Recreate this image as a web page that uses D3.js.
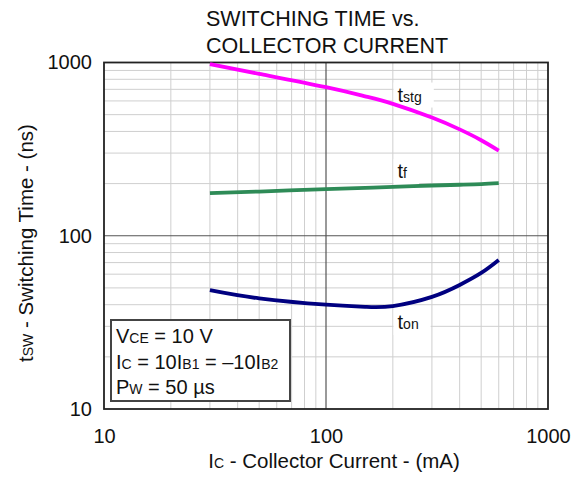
<!DOCTYPE html>
<html><head><meta charset="utf-8">
<script src="https://cdn.jsdelivr.net/npm/d3@7"></script>
<style>
body{margin:0;background:#fff}
svg{display:block}
text{font-family:"Liberation Sans",Arial,Helvetica,sans-serif;fill:#111}
</style>
</head><body>
<svg id="chart" width="581" height="477"></svg>
<script>
// ---- data ----
const currentMA = [30, 50, 100, 150, 200, 300, 400, 500, 600];
const tStg = [980, 860, 720, 638, 577, 481, 411, 356, 310];
const tF   = [176, 180, 186, 189, 191.5, 195, 197, 198.5, 201];
const tOn  = [48.5, 43.5, 40, 38.9, 39.3, 44.4, 52, 61, 72.5];
const xTickValues = [10, 100, 1000];
const yTickValues = [10, 100, 1000];
const seriesNames = ["stg", "f", "on"];
const seriesColors = ["#ff00ff", "#2e8b57", "#000080"];
const labelAt = [[210, 595], [210, 215], [210, 29]]; // [mA, ns] anchor of curve labels
const conditions = [["V","CE"," = 10 V"],["I","C"," = 10I","B1"," = \u201310I","B2"],["P","W"," = 50 \u00b5s"]];

const svg = d3.select("#chart");
const L = 104, R = 548, T = 62.5, B = 409;
const x = d3.scaleLog().domain([10, 1000]).range([L, R]);
const y = d3.scaleLog().domain([10, 1000]).range([B, T]);

// minor grid
const minor = [];
[10, 100].forEach(d => { for (let m = 2; m <= 9; m++) minor.push(d * m); });
const g = svg.append("g");
g.selectAll(".vx").data(minor).join("line")
  .attr("x1", d => x(d)).attr("x2", d => x(d)).attr("y1", T).attr("y2", B)
  .attr("stroke", "#cfcfcf").attr("stroke-width", 1);
g.selectAll(".hy").data(minor).join("line")
  .attr("y1", d => y(d)).attr("y2", d => y(d)).attr("x1", L).attr("x2", R)
  .attr("stroke", "#cfcfcf").attr("stroke-width", 1);
// major grid
g.append("line").attr("x1", x(100)).attr("x2", x(100)).attr("y1", T).attr("y2", B)
  .attr("stroke", "#555").attr("stroke-width", 1.2);
g.append("line").attr("y1", y(100)).attr("y2", y(100)).attr("x1", L).attr("x2", R)
  .attr("stroke", "#555").attr("stroke-width", 1.2);

// frame
svg.append("rect").attr("x", L).attr("y", T).attr("width", R - L).attr("height", B - T)
  .attr("fill", "none").attr("stroke", "#222").attr("stroke-width", 1.8);

// curve labels with white backgrounds (drawn under the curves)
seriesNames.forEach((name, i) => {
  const gg = svg.append("g");
  const bg = gg.append("rect").attr("fill", "#fff");
  const t = gg.append("text").attr("x", x(labelAt[i][0])).attr("y", y(labelAt[i][1]));
  t.append("tspan").attr("font-size", 20).text("t");
  t.append("tspan").attr("font-size", 14).text(name);
  const bb = t.node().getBBox();
  bg.attr("x", bb.x - 4).attr("y", bb.y - 1).attr("width", bb.width + 16).attr("height", bb.height + 3);
});

// curves
const series = [tStg, tF, tOn];
const line = d3.line().x(d => x(d[0])).y(d => y(d[1])).curve(d3.curveNatural);
series.forEach((vals, i) => {
  svg.append("path").datum(currentMA.map((c, k) => [c, vals[k]]))
    .attr("d", line).attr("fill", "none")
    .attr("stroke", seriesColors[i]).attr("stroke-width", 3.8)
    .attr("stroke-linecap", "butt");
});

// axes
const xAxis = d3.axisBottom(x).tickValues(xTickValues).tickSize(0).tickPadding(20)
  .tickFormat(d3.format("d"));
const gx = svg.append("g").attr("transform", `translate(0,${B})`).call(xAxis);
gx.select(".domain").remove();
gx.selectAll("text").attr("font-size", 20).attr("fill", "#111")
  .attr("font-family", '"Liberation Sans",Arial,sans-serif');

const yAxis = d3.axisLeft(y).tickValues(yTickValues).tickSize(0).tickPadding(12)
  .tickFormat(d3.format("d"));
const gy = svg.append("g").attr("transform", `translate(${L},0)`).call(yAxis);
gy.select(".domain").remove();
gy.selectAll("text").attr("font-size", 20).attr("fill", "#111")
  .attr("font-family", '"Liberation Sans",Arial,sans-serif');

// title
const title = svg.append("text").attr("x", 206).attr("font-size", 21.5);
title.append("tspan").attr("x", 206).attr("y", 26).text("SWITCHING TIME vs.");
title.append("tspan").attr("x", 206).attr("y", 52.5).text("COLLECTOR CURRENT");

// x label
const xl = svg.append("text").attr("x", (L + R) / 2 + 8).attr("y", 468)
  .attr("text-anchor", "middle").attr("font-size", 20.5);
xl.append("tspan").text("I");
xl.append("tspan").attr("font-size", 14).text("C");
xl.append("tspan").text(" - Collector Current - (mA)");

// y label
const yl = svg.append("text").attr("transform", "translate(33,243) rotate(-90)")
  .attr("text-anchor", "middle").attr("font-size", 20.5);
yl.append("tspan").text("t");
yl.append("tspan").attr("font-size", 14).text("SW");
yl.append("tspan").text(" - Switching Time - (ns)");

// conditions box
svg.append("rect").attr("x", 111).attr("y", 320).attr("width", 179).attr("height", 81)
  .attr("fill", "#fff").attr("stroke", "#444").attr("stroke-width", 2);
conditions.forEach((parts, i) => {
  const t = svg.append("text").attr("x", 116).attr("y", 343 + i * 25.5).attr("font-size", 20);
  parts.forEach((p, k) => t.append("tspan").attr("font-size", k % 2 === 1 ? 14 : 20).text(p));
});
</script>
</body></html>
